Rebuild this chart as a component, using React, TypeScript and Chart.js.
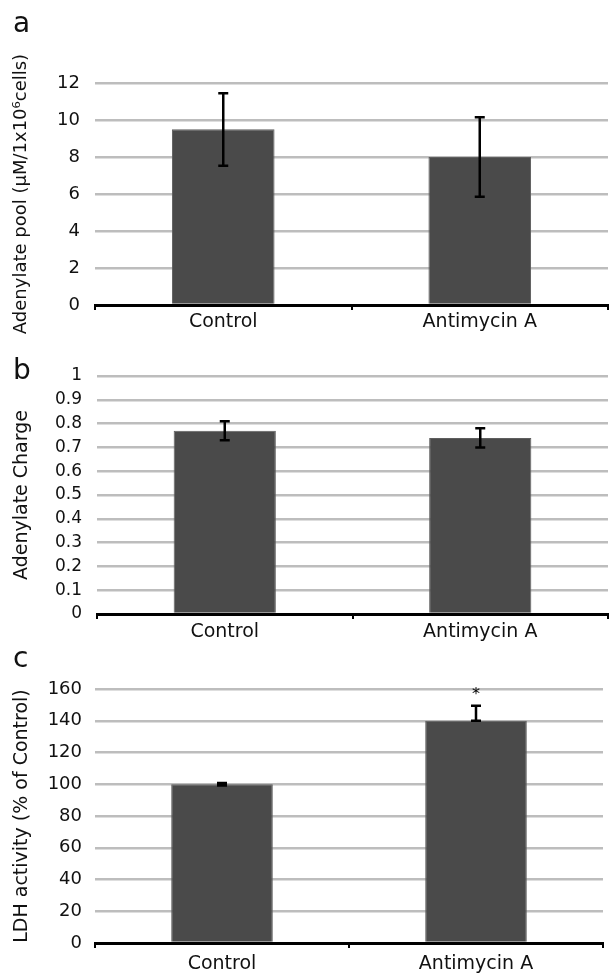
import React, { useEffect, useRef } from 'react';
import { Chart, registerables } from 'chart.js';
Chart.register(...registerables);

const FONT = 'DejaVu Sans';

const categories = ['Control', 'Antimycin A'];

// Panel a: adenylate pool
const poolMeans = [9.5, 8.0];
const poolLow = [7.53, 5.85];
const poolHigh = [11.45, 10.15];
const poolTicks = ['0', '2', '4', '6', '8', '10', '12'];

// Panel b: adenylate charge
const chargeMeans = [0.77, 0.74];
const chargeLow = [0.73, 0.70];
const chargeHigh = [0.81, 0.78];
const chargeTicks = ['0', '0.1', '0.2', '0.3', '0.4', '0.5', '0.6', '0.7', '0.8', '0.9', '1'];

// Panel c: LDH activity
const ldhMeans = [100, 140];
const ldhLow = [99.2, 140];
const ldhHigh = [100.8, 149.5];
const ldhMarks = ['', '*'];
const ldhTicks = ['0', '20', '40', '60', '80', '100', '120', '140', '160'];

const errorBarPlugin = {
  id: 'errorBars',
  afterDatasetsDraw(chart: any, _args: any, opts: any) {
    const { ctx } = chart;
    const meta = chart.getDatasetMeta(0);
    const y = chart.scales.y;
    ctx.save();
    ctx.strokeStyle = '#000';
    ctx.lineWidth = 2.5;
    meta.data.forEach((bar: any, i: number) => {
      const x = bar.x;
      const yH = y.getPixelForValue(opts.high[i]);
      const yL = y.getPixelForValue(opts.low[i]);
      ctx.beginPath();
      ctx.moveTo(x, yH);
      ctx.lineTo(x, yL);
      ctx.moveTo(x - 5, yH);
      ctx.lineTo(x + 5, yH);
      ctx.moveTo(x - 5, yL);
      ctx.lineTo(x + 5, yL);
      ctx.stroke();
      if (opts.marks && opts.marks[i]) {
        ctx.fillStyle = '#000';
        ctx.font = `16px ${FONT}`;
        ctx.textAlign = 'center';
        ctx.textBaseline = 'middle';
        ctx.fillText(opts.marks[i], x, yH - 11);
      }
    });
    ctx.restore();
  },
};

type PanelProps = {
  top: number;
  height: number;
  means: number[];
  low: number[];
  high: number[];
  marks?: string[];
  tickLabels: string[];
  max: number;
  step: number;
  title: string;
  padTop: number;
  padRight: number;
  yWidth: number;
  tickPad: number;
  tickSize: number;
  xHeight: number;
  xPad: number;
  titleSize: number;
  titlePad: number;
};

function Panel(p: PanelProps) {
  const ref = useRef<HTMLCanvasElement | null>(null);
  useEffect(() => {
    const chart = new Chart(ref.current as HTMLCanvasElement, {
      type: 'bar',
      data: {
        labels: categories,
        datasets: [
          {
            data: p.means,
            backgroundColor: '#4a4a4a',
            borderColor: '#5e5e5e',
            borderWidth: 1,
            barPercentage: 0.4,
            categoryPercentage: 1,
          },
        ],
      },
      options: {
        responsive: false,
        animation: false,
        devicePixelRatio: 1,
        layout: { padding: { top: p.padTop, right: p.padRight, left: 0, bottom: 0 } },
        plugins: {
          legend: { display: false },
          tooltip: { enabled: false },
          errorBars: { low: p.low, high: p.high, marks: p.marks },
        } as any,
        scales: {
          x: {
            offset: true,
            grid: {
              display: true,
              offset: true,
              drawOnChartArea: false,
              drawTicks: true,
              tickLength: 5,
              color: '#000',
              lineWidth: 2,
            },
            border: { display: true, color: '#000', width: 3, z: 1 },
            ticks: {
              font: { family: FONT, size: 19 },
              color: '#111',
              padding: p.xPad,
              maxRotation: 0,
              autoSkip: false,
            },
            afterFit: (s: any) => {
              s.height = p.xHeight;
            },
          },
          y: {
            min: 0,
            max: p.max,
            ticks: {
              stepSize: p.step,
              autoSkip: false,
              padding: p.tickPad,
              font: { family: FONT, size: p.tickSize },
              color: '#111',
              callback: (_v: any, i: number) => p.tickLabels[i],
            },
            grid: { color: '#bdbdbd', lineWidth: 2.5, drawTicks: false },
            border: { display: false },
            title: {
              display: true,
              text: p.title,
              font: { family: FONT, size: p.titleSize },
              color: '#111',
              padding: { top: p.titlePad, bottom: 0 },
            },
            afterFit: (s: any) => {
              s.width = p.yWidth;
            },
          },
        },
      } as any,
      plugins: [errorBarPlugin],
    });
    return () => chart.destroy();
  }, []);
  return (
    <canvas
      ref={ref}
      width={609}
      height={p.height}
      style={{ position: 'absolute', left: 0, top: p.top, display: 'block' }}
    />
  );
}

const letterStyle = (top: number): React.CSSProperties => ({
  position: 'absolute',
  left: 13,
  top,
  fontFamily: FONT,
  fontSize: 28,
  lineHeight: '28px',
  color: '#111',
});

export default function App() {
  return (
    <div
      style={{
        position: 'absolute',
        left: 0,
        top: 0,
        width: 609,
        height: 973,
        background: '#fff',
        overflow: 'hidden',
      }}
    >
      <Panel
        top={0}
        height={345}
        means={poolMeans}
        low={poolLow}
        high={poolHigh}
        tickLabels={poolTicks}
        max={12}
        step={2}
        title={'Adenylate pool (\u03bcM/1x10\u2076cells)'}
        padTop={83}
        padRight={1}
        yWidth={95}
        tickPad={15}
        tickSize={18}
        xHeight={40}
        xPad={1}
        titleSize={18}
        titlePad={11}
      />
      <Panel
        top={340}
        height={310}
        means={chargeMeans}
        low={chargeLow}
        high={chargeHigh}
        tickLabels={chargeTicks}
        max={1}
        step={0.1}
        title={'Adenylate Charge'}
        padTop={36}
        padRight={1}
        yWidth={97}
        tickPad={15}
        tickSize={17}
        xHeight={36}
        xPad={2}
        titleSize={19}
        titlePad={11}
      />
      <Panel
        top={640}
        height={333}
        means={ldhMeans}
        low={ldhLow}
        high={ldhHigh}
        marks={ldhMarks}
        tickLabels={ldhTicks}
        max={160}
        step={20}
        title={'LDH activity (% of Control)'}
        padTop={49}
        padRight={6}
        yWidth={95}
        tickPad={13}
        tickSize={18}
        xHeight={30}
        xPad={5}
        titleSize={19}
        titlePad={11}
      />
      <div style={letterStyle(9)}>a</div>
      <div style={letterStyle(356)}>b</div>
      <div style={letterStyle(644)}>c</div>
    </div>
  );
}
